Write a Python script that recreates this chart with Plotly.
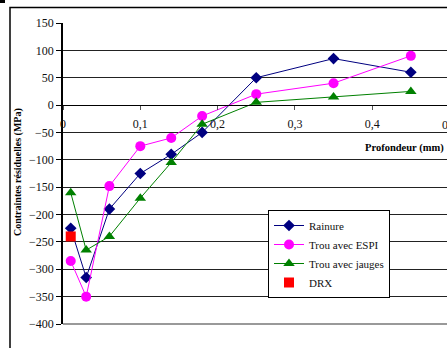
import plotly.graph_objects as go

depth = [0.01, 0.03, 0.06, 0.10, 0.14, 0.18, 0.25, 0.35, 0.45]
rainure = [-225, -315, -190, -125, -90, -50, 50, 85, 60]
espi = [-285, -350, -148, -75, -60, -20, 20, 40, 90]
jauges = [-160, -265, -240, -170, -105, -35, 5, 15, 25]
drx_depth = [0.01]
drx = [-240]

x_ticks = [0, 0.1, 0.2, 0.3, 0.4]
x_ticklabels = ["0", "0,1", "0,2", "0,3", "0,4"]
y_ticks = list(range(-400, 151, 50))

W, H = 447, 348
L, T = 63, 23
plot_bottom = 324
B = H - plot_bottom
R = 0
px_per_unit = 773.0
x_max = (W - L - R) / px_per_unit
plot_w = W - L - R
plot_h = H - T - B


def px(xs):  # screen x -> paper
    return (xs - L) / plot_w


def py(ys):  # screen y -> paper
    return (plot_bottom - ys) / plot_h


serif = "Liberation Serif"

fig = go.Figure()
fig.add_trace(go.Scatter(x=depth, y=rainure, name="Rainure", mode="lines+markers",
                         line=dict(color="#000080", width=1),
                         marker=dict(symbol="diamond", size=9, color="#000080")))
fig.add_trace(go.Scatter(x=depth, y=espi, name="Trou avec ESPI", mode="lines+markers",
                         line=dict(color="#FF00FF", width=1),
                         marker=dict(symbol="circle", size=10, color="#FF00FF")))
fig.add_trace(go.Scatter(x=depth, y=jauges, name="Trou avec jauges", mode="lines+markers",
                         line=dict(color="#008000", width=1),
                         marker=dict(symbol="triangle-up", size=10, color="#008000")))
fig.add_trace(go.Scatter(x=drx_depth, y=drx, name="DRX", mode="markers",
                         marker=dict(symbol="square", size=10, color="#FF0000")))

zero_pos = (0 - (-400)) / 550.0

fig.update_layout(
    width=W, height=H,
    margin=dict(l=L, r=R, t=T, b=B, pad=0),
    paper_bgcolor="white", plot_bgcolor="white",
    font=dict(family=serif, size=12, color="#111"),
    showlegend=True,
    legend=dict(x=px(268), y=py(210), xanchor="left", yanchor="top",
                bgcolor="white", bordercolor="#000", borderwidth=1,
                font=dict(family=serif, size=11, color="#111"),
                itemwidth=30, tracegroupgap=0),
    xaxis=dict(range=[0, x_max], tickvals=x_ticks, ticktext=x_ticklabels,
               showgrid=False, zeroline=False, showline=True, linecolor="#000", linewidth=1,
               ticks="outside", ticklen=4, tickcolor="#555", ticklabelstandoff=4,
               anchor="free", position=zero_pos,
               tickfont=dict(family=serif, size=12, color="#111")),
    yaxis=dict(range=[-400, 150], tickvals=y_ticks,
               showgrid=True, gridcolor="#222", gridwidth=1,
               zeroline=False, showline=True, linecolor="#000", linewidth=1.5,
               ticks="outside", ticklen=5, tickcolor="#000",
               tickfont=dict(family=serif, size=12, color="#111")),
    annotations=[
        dict(text="<b>Contraintes résiduelles (MPa)</b>", textangle=-90,
             xref="paper", yref="paper", x=px(18), y=py(172),
             showarrow=False, font=dict(family=serif, size=10, color="#000"),
             xanchor="center", yanchor="middle"),
        dict(text="<b>Profondeur (mm)</b>", xref="paper", yref="paper",
             x=px(446), y=py(148), showarrow=False,
             font=dict(family=serif, size=10.5, color="#000"),
             xanchor="right", yanchor="middle"),
        dict(text="0,5", xref="paper", yref="paper",
             x=px(449), y=py(125), showarrow=False,
             font=dict(family=serif, size=12, color="#111"),
             xanchor="center", yanchor="middle"),
    ],
    shapes=[
        dict(type="rect", xref="paper", yref="paper",
             x0=px(10), x1=1.2, y0=-0.3, y1=py(7.5),
             line=dict(color="#000", width=1.5), fillcolor="rgba(0,0,0,0)", layer="below"),
        dict(type="line", xref="paper", yref="paper", x0=0, x1=1, y0=0, y1=0,
             line=dict(color="#777", width=1.5)),
        dict(type="rect", xref="paper", yref="paper",
             x0=px(0), x1=px(5), y0=py(3), y1=py(-1),
             line=dict(width=0), fillcolor="#000"),
    ],
)

fig.write_html("out.html",
               config={"displayModeBar": False},
               post_script="document.body.style.margin='0';document.body.style.overflow='hidden';")
